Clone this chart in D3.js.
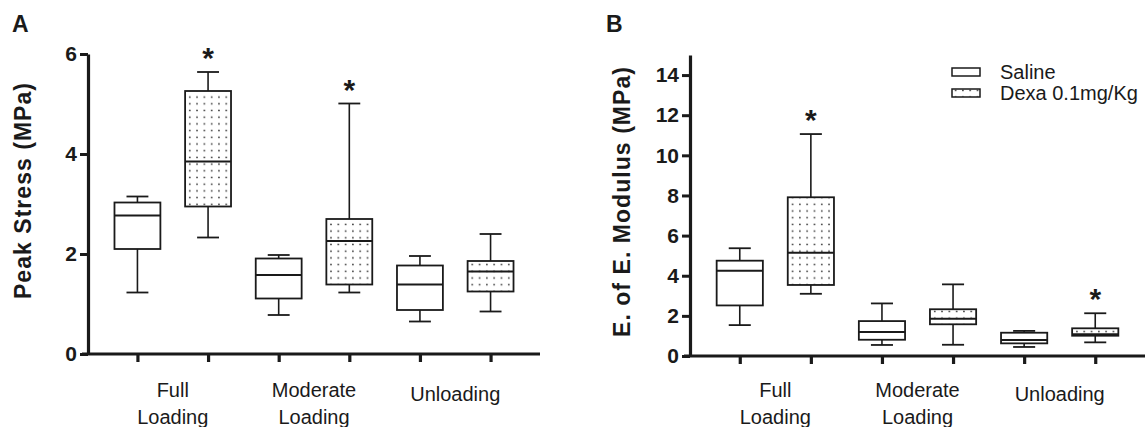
<!DOCTYPE html>
<meta charset="utf-8">
<script src="https://d3js.org/d3.v7.min.js"></script>
<style>
 body { margin: 0; background: #fff; }
 text { font-family: Arial, 'Liberation Sans', sans-serif; }
</style>
<div id="chart"></div>
<script>

 // categories along x (two lines of text each) and the two treatment groups
 const categories = [["Full", "Loading"], ["Moderate", "Loading"], ["Unloading"]];
 const groups = ["Saline", "Dexa 0.1mg/Kg"];

 // box stats per category: [min, q1, median, q3, max]
 const stressSaline = [[1.23, 2.10, 2.77, 3.03, 3.15], [0.78, 1.11, 1.58, 1.91, 1.98], [0.65, 0.88, 1.39, 1.77, 1.96]];
 const stressDexa   = [[2.33, 2.95, 3.85, 5.26, 5.64], [1.23, 1.39, 2.26, 2.70, 5.01], [0.85, 1.25, 1.65, 1.86, 2.40]];
 const stressStar   = [[false, true], [false, true], [false, false]];
 const stressTicks  = [0, 2, 4, 6];

 const modSaline = [[1.54, 2.52, 4.25, 4.75, 5.37], [0.55, 0.81, 1.20, 1.74, 2.62], [0.45, 0.63, 0.80, 1.16, 1.25]];
 const modDexa   = [[3.10, 3.54, 5.15, 7.91, 11.06], [0.56, 1.58, 1.86, 2.33, 3.57], [0.68, 1.01, 1.08, 1.38, 2.13]];
 const modStar   = [[false, true], [false, false], [false, true]];
 const modTicks  = [0, 2, 4, 6, 8, 10, 12, 14];

 const ink = "#1a1a1a";

 const svg = d3.select("#chart").append("svg")
               .attr("width", 1146).attr("height", 427)
               .style("background", "#fff");

 // dotted fill for the Dexa boxes
 const pat = svg.append("defs").append("pattern")
                .attr("id", "dots").attr("patternUnits", "userSpaceOnUse")
                .attr("width", 7.3).attr("height", 6.7);
 pat.append("rect").attr("width", 7.3).attr("height", 6.7).attr("fill", "#fff");
 pat.append("circle").attr("cx", 3.6).attr("cy", 3.3).attr("r", 0.85).attr("fill", "#333");

 function panel(opt) {
     const g = svg.append("g").attr("transform", `translate(${opt.left},0)`);
     const keys = [];
     categories.forEach((c, i) => groups.forEach((s, j) => keys.push(i + "|" + j)));

     const x = d3.scalePoint().domain(keys).range([0, opt.width]).padding(0.7);
     const y = d3.scaleLinear().domain([0, opt.max]).range([opt.bottom, opt.top]);
     const step = x.step();
     const boxW = step * 0.65, capW = step * 0.31;

     // y axis
     const ya = g.append("g")
                 .call(d3.axisLeft(y).tickValues(opt.ticks).tickFormat(d3.format("d"))
                         .tickSize(8).tickSizeOuter(0).tickPadding(3));
     ya.attr("font-size", null).attr("font-family", null);
     ya.select(".domain").attr("stroke", ink).attr("stroke-width", 3.2);
     ya.selectAll(".tick line").attr("stroke", ink).attr("stroke-width", 3);
     ya.selectAll(".tick text").attr("fill", ink).style("font-size", "21px").style("font-weight", "bold");

     // x axis (ticks only, labels drawn below)
     const xa = g.append("g").attr("transform", `translate(0,${opt.bottom})`)
                 .call(d3.axisBottom(x).tickFormat("").tickSize(8).tickSizeOuter(0));
     xa.select(".domain").attr("stroke", ink).attr("stroke-width", 3.2).attr("d", `M-6,0H${opt.width}`);
     xa.selectAll(".tick line").attr("stroke", ink).attr("stroke-width", 3.2);

     // category labels
     categories.forEach((c, i) => {
         const cx = (x(i + "|0") + x(i + "|1")) / 2;
         const t = g.append("text").attr("text-anchor", "middle").attr("fill", ink)
                    .style("font-size", "20px");
         if (c.length === 1) {
             t.attr("x", cx).attr("y", 401).text(c[0]);
         } else {
             c.forEach((line, k) => t.append("tspan").attr("x", cx).attr("y", 397 + k * 27).text(line));
         }
     });

     // boxes
     const rows = [];
     categories.forEach((c, i) => {
         rows.push({key: i + "|0", s: opt.saline[i], star: opt.star[i][0], dexa: false});
         rows.push({key: i + "|1", s: opt.dexa[i], star: opt.star[i][1], dexa: true});
     });

     const b = g.selectAll("g.box").data(rows).join("g").attr("class", "box")
                .attr("transform", d => `translate(${x(d.key)},0)`);
     b.append("line").attr("y1", d => y(d.s[0])).attr("y2", d => y(d.s[4]))
      .attr("stroke", ink).attr("stroke-width", 1.6);
     b.append("line").attr("x1", -capW / 2).attr("x2", capW / 2)
      .attr("y1", d => y(d.s[4])).attr("y2", d => y(d.s[4])).attr("stroke", ink).attr("stroke-width", 1.8);
     b.append("line").attr("x1", -capW / 2).attr("x2", capW / 2)
      .attr("y1", d => y(d.s[0])).attr("y2", d => y(d.s[0])).attr("stroke", ink).attr("stroke-width", 1.8);
     b.append("rect").attr("x", -boxW / 2).attr("width", boxW)
      .attr("y", d => y(d.s[3])).attr("height", d => y(d.s[1]) - y(d.s[3]))
      .attr("fill", d => d.dexa ? "url(#dots)" : "#fff")
      .attr("stroke", ink).attr("stroke-width", 1.8);
     b.append("line").attr("x1", -boxW / 2).attr("x2", boxW / 2)
      .attr("y1", d => y(d.s[2])).attr("y2", d => y(d.s[2])).attr("stroke", ink).attr("stroke-width", 2);
     b.filter(d => d.star).append("text").attr("text-anchor", "middle")
      .attr("y", d => y(d.s[4]) - 4).attr("fill", ink)
      .style("font-size", "30px").style("font-weight", "bold").text("*");

     // y title
     svg.append("text").attr("transform", `translate(${opt.titleX},${opt.titleY}) rotate(-90)`)
        .attr("text-anchor", "middle").attr("fill", ink)
        .attr("textLength", opt.titleLen).attr("lengthAdjust", "spacing")
        .style("font-size", "23px").style("font-weight", "bold").text(opt.title);

     // panel letter
     svg.append("text").attr("x", opt.letterX).attr("y", 32).attr("fill", ink)
        .style("font-size", "23px").style("font-weight", "bold").text(opt.letter);
 }

 panel({left: 88, width: 452, top: 54, bottom: 354, max: 6, ticks: stressTicks,
        saline: stressSaline, dexa: stressDexa, star: stressStar,
        title: "Peak Stress (MPa)", titleX: 31, titleY: 191, titleLen: 216, letter: "A", letterX: 12});

 panel({left: 690, width: 455, top: 55, bottom: 356, max: 15, ticks: modTicks,
        saline: modSaline, dexa: modDexa, star: modStar,
        title: "E. of E. Modulus  (MPa)", titleX: 630, titleY: 202, titleLen: 270, letter: "B", letterX: 606});

 // legend
 const leg = svg.append("g").attr("transform", "translate(952,0)");
 groups.forEach((name, i) => {
     leg.append("rect").attr("x", 0).attr("y", 68 + i * 21).attr("width", 28).attr("height", 8)
        .attr("fill", i ? "url(#dots)" : "#fff").attr("stroke", ink).attr("stroke-width", 1.5);
     leg.append("text").attr("x", 48).attr("y", 79 + i * 21).attr("fill", ink)
        .style("font-size", "20px").text(name);
 });

</script>
